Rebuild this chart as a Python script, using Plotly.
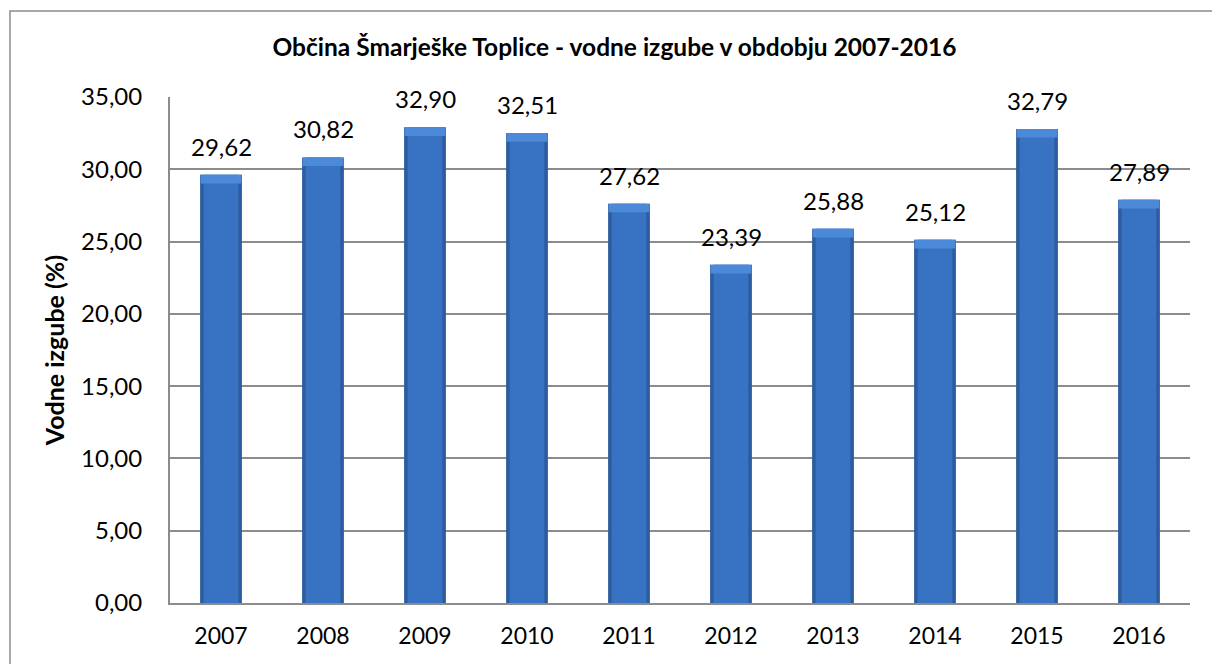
import plotly.graph_objects as go

years = ["2007", "2008", "2009", "2010", "2011", "2012", "2013", "2014", "2015", "2016"]
losses = [29.62, 30.82, 32.90, 32.51, 27.62, 23.39, 25.88, 25.12, 32.79, 27.89]
y_ticks = [0, 5, 10, 15, 20, 25, 30, 35]
title_text = "Občina Šmarješke Toplice - vodne izgube v obdobju 2007-2016"
y_title = "Vodne izgube (%)"

FONT = "Lato, Carlito, Calibri, sans-serif"
BEVEL = 0.6  # height of the lighter top bevel, in axis units

fig = go.Figure()
# outer darker bar (edges)
fig.add_trace(go.Bar(
    x=years, y=losses, width=0.41,
    marker=dict(color="#2d5d9e", line=dict(width=0)),
    hoverinfo="skip", showlegend=False,
))
# inner face
fig.add_trace(go.Bar(
    x=years, y=losses, width=0.34,
    marker=dict(color="#3773c2", line=dict(width=0)),
    hoverinfo="skip", showlegend=False,
))
# top bevel highlight
fig.add_trace(go.Bar(
    x=years, y=[BEVEL] * len(losses), base=[v - BEVEL for v in losses], width=0.40,
    marker=dict(color="#4c8ad9", line=dict(width=0)),
    hoverinfo="skip", showlegend=False,
))

# value labels (x given as category index, since the year strings look numeric)
annotations = [
    dict(x=i, y=v, xref="x", yref="y", text=f"{v:.2f}".replace(".", ","),
         showarrow=False, yanchor="bottom", yshift=12,
         font=dict(family=FONT, size=24, color="#000000"))
    for i, v in enumerate(losses)
]

fig.update_layout(
    width=1212, height=664,
    barmode="overlay",
    separators=",.",
    paper_bgcolor="white", plot_bgcolor="white",
    margin=dict(l=170, r=22, t=97, b=61),
    font=dict(family=FONT, color="#000000"),
    title=dict(text=f"<b>{title_text}</b>", x=0.507, xanchor="center",
               y=1 - 47 / 664, yanchor="middle",
               font=dict(family=FONT, size=24.5, color="#000000")),
    xaxis=dict(
        type="category", range=[-0.5, len(years) - 0.5],
        showgrid=False, showline=True, linecolor="#8c8c8c", linewidth=2,
        ticks="", tickfont=dict(family=FONT, size=23), ticklabelstandoff=11,
        automargin=False, fixedrange=True,
    ),
    yaxis=dict(
        range=[0, 35], tickvals=y_ticks, tickformat=".2f",
        showgrid=True, gridcolor="#8c8c8c", gridwidth=1.5,
        showline=True, linecolor="#8c8c8c", linewidth=2,
        zeroline=False, ticks="", tickfont=dict(family=FONT, size=24),
        ticklabelstandoff=21,
        title=dict(text=f"<b>{y_title}</b>", font=dict(family=FONT, size=25), standoff=9),
        automargin=False, fixedrange=True,
    ),
    annotations=annotations,
    shapes=[dict(
        type="rect", xref="paper", yref="paper",
        x0=(10 - 170) / 1020, x1=1.2, y0=-0.3, y1=(603 - 11) / 506,
        line=dict(color="#8c8c8c", width=1.5), fillcolor="rgba(0,0,0,0)", layer="below",
    )],
)

fig.write_html("out.html", config={"displayModeBar": False},
               post_script="document.body.style.margin='0';")
